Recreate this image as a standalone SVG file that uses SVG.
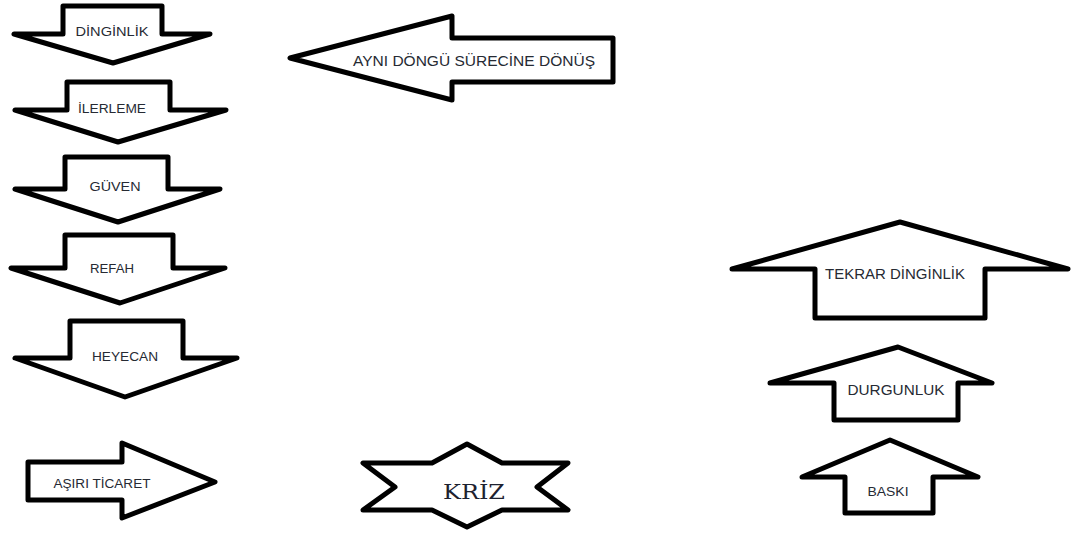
<svg xmlns="http://www.w3.org/2000/svg" width="1081" height="535" viewBox="0 0 1081 535">
<style>
.s{fill:#fff;stroke:#000;stroke-width:5;stroke-linejoin:round}
.t{font-family:"Liberation Sans",Arial,sans-serif;fill:#262a33;text-anchor:middle}
.k{font-family:"DejaVu Serif","Liberation Serif",serif;fill:#1e2230;text-anchor:middle;font-size:21px}
</style>
<rect width="1081" height="535" fill="#fff"/>
<g id="dinginlik"><path class="s" d="M63,6 L162,6 L162,34 L210,34 L113,63 L14,34 L63,34 Z"/><text class="t" x="112" y="36" font-size="12" textLength="73" lengthAdjust="spacingAndGlyphs">DİNGİNLİK</text></g>
<g id="ilerleme"><path class="s" d="M67,82 L170,82 L170,110 L226,110 L118,142 L15,110 L67,110 Z"/><text class="t" x="112" y="113" font-size="12" textLength="68" lengthAdjust="spacingAndGlyphs">İLERLEME</text></g>
<g id="guven"><path class="s" d="M65,157 L168,157 L168,189 L220,189 L118,222 L15,189 L65,189 Z"/><text class="t" x="115" y="191" font-size="12" textLength="51" lengthAdjust="spacingAndGlyphs">GÜVEN</text></g>
<g id="refah"><path class="s" d="M65,235 L173,235 L173,268 L225,268 L120,303 L11,268 L65,268 Z"/><text class="t" x="112" y="273" font-size="12" textLength="44" lengthAdjust="spacingAndGlyphs">REFAH</text></g>
<g id="heyecan"><path class="s" d="M70,321 L183,321 L183,358 L237,358 L125,397 L15,358 L70,358 Z"/><text class="t" x="125" y="361" font-size="12" textLength="66" lengthAdjust="spacingAndGlyphs">HEYECAN</text></g>
<g id="asiri-ticaret"><path class="s" d="M28,462 L122,462 L122,443 L215,482 L122,518 L122,500 L28,500 Z"/><text class="t" x="102" y="488" font-size="12.5" textLength="97" lengthAdjust="spacingAndGlyphs">AŞIRI TİCARET</text></g>
<g id="ayni-dongu"><path class="s" d="M290,58 L452,16 L452,38 L613,38 L613,82 L452,82 L452,100 Z"/><text class="t" x="474" y="66" font-size="14.5" textLength="242" lengthAdjust="spacingAndGlyphs">AYNI DÖNGÜ SÜRECİNE DÖNÜŞ</text></g>
<g id="kriz"><path class="s" d="M363,463 L432,463 L467,444 L502,463 L568,463 L537,487 L568,510 L502,510 L467,527 L432,510 L363,510 L395,487 Z"/><text class="k" x="474" y="499" textLength="62" lengthAdjust="spacingAndGlyphs">KRİZ</text></g>
<g id="tekrar-dinginlik"><path class="s" d="M900,222 L1068,269 L985,269 L985,318 L815,318 L815,269 L732,269 Z"/><text class="t" x="895" y="279" font-size="14.5" textLength="140" lengthAdjust="spacingAndGlyphs">TEKRAR DİNGİNLİK</text></g>
<g id="durgunluk"><path class="s" d="M898,347 L992,383 L958,383 L958,420 L834,420 L834,383 L770,383 Z"/><text class="t" x="896" y="395" font-size="14" textLength="97" lengthAdjust="spacingAndGlyphs">DURGUNLUK</text></g>
<g id="baski"><path class="s" d="M890,440 L978,477 L933,477 L933,513 L845,513 L845,477 L802,477 Z"/><text class="t" x="888" y="496" font-size="13" textLength="41" lengthAdjust="spacingAndGlyphs">BASKI</text></g>
<g id="connectors"></g>
</svg>
